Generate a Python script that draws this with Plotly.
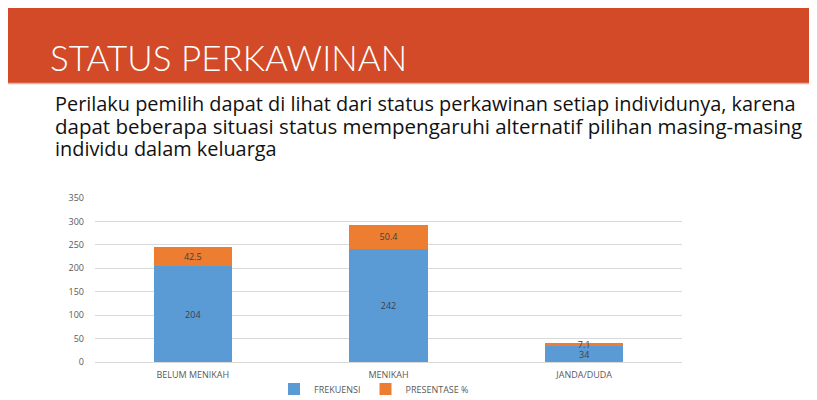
import plotly.graph_objects as go

categories = ["BELUM MENIKAH", "MENIKAH", "JANDA/DUDA"]
frekuensi = [204, 242, 34]
presentase = [42.5, 50.4, 7.1]
series_names = ["FREKUENSI", "PRESENTASE %"]
y_ticks = [0, 50, 100, 150, 200, 250, 300, 350]

title_text = "STATUS PERKAWINAN"
paragraph_lines = [
    "Perilaku pemilih dapat di lihat dari status perkawinan setiap individunya, karena",
    "dapat beberapa situasi status mempengaruhi alternatif pilihan masing-masing",
    "individu dalam keluarga",
]

# page has an 8px body margin: work in screen pixels, convert to figure coords
OFF = 8
W, H = 817 - OFF, 400 - OFF
PL, PR, PT, PB = 95, 682, 198, 362  # plot area in screen pixels
L, R, T, B = PL - OFF, (W + OFF) - PR, PT - OFF, (H + OFF) - PB
pw, ph = PR - PL, PB - PT

def px(x):
    return (x - PL) / pw

def py(y):
    return (PB - y) / ph

fig = go.Figure()
fig.add_trace(go.Bar(
    x=categories, y=frekuensi, name=series_names[0],
    marker=dict(color="#5B9BD5", line=dict(width=0)),
    text=[str(v) for v in frekuensi], textposition="inside",
    insidetextanchor="middle", textangle=0,
    textfont=dict(color="#404040", size=9, family="Open Sans"),
))
fig.add_trace(go.Bar(
    x=categories, y=presentase, name=series_names[1],
    marker=dict(color="#ED7D31", line=dict(width=0)),
    text=[str(v) for v in presentase], textposition="inside",
    insidetextanchor="middle", textangle=0,
    textfont=dict(color="#404040", size=9, family="Open Sans"),
))

fig.update_layout(
    width=W, height=H,
    margin=dict(l=L, r=R, t=T, b=B, autoexpand=False),
    barmode="stack", bargap=0.6,
    paper_bgcolor="white", plot_bgcolor="white",
    font=dict(family="Open Sans", color="#595959", size=9),
    uniformtext=dict(minsize=9, mode="show"),
    showlegend=True,
    legend=dict(orientation="h", x=px(374), xanchor="center", y=py(389), yanchor="middle",
                font=dict(size=9, color="#595959"), traceorder="normal",
                itemwidth=30, bgcolor="rgba(0,0,0,0)", tracegroupgap=0),
    xaxis=dict(showgrid=False, showline=False, ticks="", tickfont=dict(size=9, color="#595959"),
               ticklabelstandoff=6),
    yaxis=dict(range=[0, 350], tickvals=y_ticks, showgrid=True, gridcolor="#D9D9D9",
               gridwidth=1, zeroline=True, zerolinecolor="#D9D9D9", zerolinewidth=1,
               showline=False, ticks="", tickfont=dict(size=9, color="#595959"), ticklabelstandoff=10),
)

# banner
fig.add_shape(type="rect", xref="paper", yref="paper",
              x0=px(6), x1=px(817), y0=py(83), y1=py(5),
              fillcolor="#D24A27", line=dict(width=0), layer="below")
fig.add_shape(type="line", xref="paper", yref="paper",
              x0=px(6), x1=px(817), y0=py(83.5), y1=py(83.5),
              line=dict(color="#EBB19F", width=1.5))

fig.add_annotation(text=title_text, xref="paper", yref="paper",
                   x=px(48), y=py(57), xanchor="left", yanchor="middle",
                   showarrow=False,
                   font=dict(family="Lato Light, Open Sans", size=35, color="white", weight=300))

line_y = [104, 126, 148]
line_sizes = [19.9, 20.5, 19.9]
for txt, yy, fs in zip(paragraph_lines, line_y, line_sizes):
    fig.add_annotation(text=txt, xref="paper", yref="paper",
                       x=px(53), y=py(yy), xanchor="left", yanchor="middle",
                       showarrow=False,
                       font=dict(family="Open Sans", size=fs, color="#111111"))

fig.write_html("out.html")
